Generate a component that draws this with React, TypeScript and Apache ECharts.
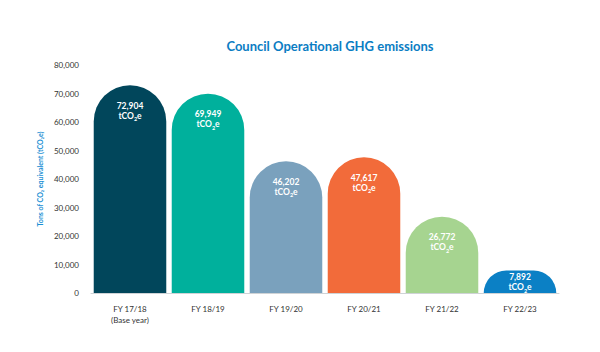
import React, { useEffect, useRef } from "react";
import * as echarts from "echarts";

const categories = ["FY 17/18\n(Base year)", "FY 18/19", "FY 19/20", "FY 20/21", "FY 21/22", "FY 22/23"];
const values = [72904, 69949, 46202, 47617, 26772, 7892];
const barColors = ["#01465b", "#00b09c", "#7aa1bd", "#f26b3a", "#a6d490", "#0b80c5"];
const labelDistances = [15, 15, 15, 15, 15, 1];

const fmt = (v: number) => v.toLocaleString("en-US");

export default function App() {
  const ref = useRef<HTMLDivElement>(null);
  useEffect(() => {
    if (!ref.current) return;
    const chart = echarts.init(ref.current, null, { renderer: "svg" });
    chart.setOption({
      animation: false,
      backgroundColor: "#ffffff",
      textStyle: { fontFamily: "Lato" },
      title: {
        text: "Council Operational GHG emissions",
        left: 325,
        textAlign: "center",
        top: 34,
        textStyle: { color: "#0b7dc3", fontSize: 13, fontWeight: "bold", fontFamily: "Lato" },
      },
      grid: { left: 91, right: 41, top: 65, bottom: 59 },
      xAxis: {
        type: "category",
        data: categories,
        axisLine: { lineStyle: { color: "#cfd3d6", width: 1 } },
        axisTick: { show: false },
        axisLabel: { color: "#333", fontSize: 8, lineHeight: 11, margin: 10, fontFamily: "Lato" },
      },
      yAxis: {
        type: "value",
        min: 0,
        max: 80000,
        interval: 10000,
        axisLine: { show: false },
        axisTick: { show: false },
        splitLine: { show: false },
        axisLabel: { color: "#333", fontSize: 8, margin: 12, formatter: (v: number) => fmt(v), fontFamily: "Lato" },
        name: "Tons of CO₂ equivalent (tCO₂e)",
        nameLocation: "middle",
        nameGap: 43,
        nameTextStyle: { color: "#1b8fd4", fontSize: 7, fontWeight: "bold", fontFamily: "Lato" },
      },
      series: [
        {
          type: "bar",
          barWidth: "93%",
          data: values.map((v, i) => ({
            value: v,
            itemStyle: { color: barColors[i], borderRadius: [37, 37, 0, 0] },
            label: { distance: labelDistances[i] },
          })),
          label: {
            show: true,
            position: "insideTop",
            formatter: (p: any) => `{v|${fmt(p.value)}}\n{b|tCO}{s|2}{b|e}`,
            rich: {
              v: { color: "#fff", fontSize: 8.5, fontWeight: "bold", fontFamily: "Lato", lineHeight: 11, align: "center" },
              b: { color: "#fff", fontSize: 8.5, fontWeight: "bold", fontFamily: "Lato", lineHeight: 11, verticalAlign: "top" },
              s: { color: "#fff", fontSize: 5.5, fontWeight: "bold", fontFamily: "Lato", lineHeight: 11, verticalAlign: "bottom" },
            },
          },
        },
      ],
    });
    return () => chart.dispose();
  }, []);
  return <div ref={ref} style={{ position: "fixed", left: 0, top: 0, width: 600, height: 352 }} />;
}
